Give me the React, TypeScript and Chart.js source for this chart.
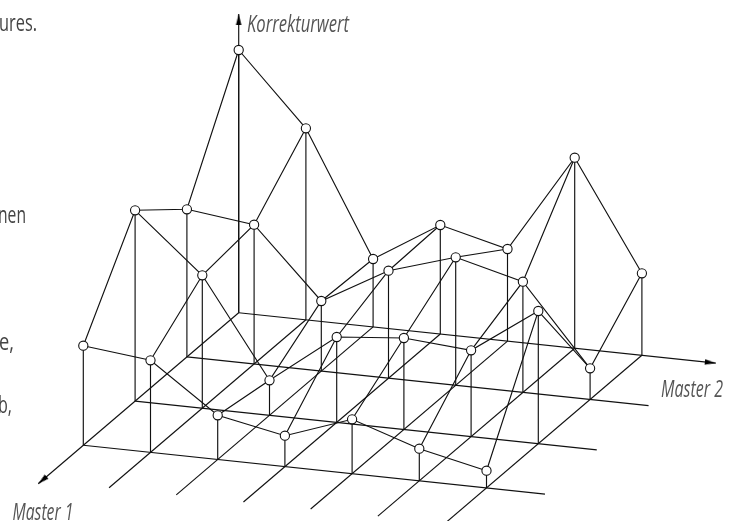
import React, { useEffect, useRef } from "react";
import { Chart, registerables } from "chart.js";

Chart.register(...registerables);

// Korrekturwert per Master 2 step, one list per Master 1 step (back to front)
const korrekturRow0 = [262.7, 191.5, 67.9, 109, 92.1, 190.5, 82];
const korrekturRow1 = [147.6, 139.3, 70.1, 107.5, 128, 110.7, 31.2];
const korrekturRow2 = [190.8, 132.9, 35, 85.4, 91.5, 86.3, 132.7];
const korrekturRow3 = [99.6, 92.1, 44.2, 30.9, 54.4, 32.1, 17.2];
const rows = [korrekturRow0, korrekturRow1, korrekturRow2, korrekturRow3];

const master1Steps = [0, 1, 2, 3];
const master2Steps = [0, 1, 2, 3, 4, 5, 6];

const axisTitles = ["Korrekturwert", "Master 1", "Master 2"];
const fragments = ["ures.", "nen", "e,", "b,"];

// Oblique projection of the (Master 1, Master 2, Korrekturwert) space
const project = (m1: number, m2: number, z = 0) => ({
  x: 238.7 - 51.8 * m1 + 67.2 * m2,
  y: 312.7 + 44.2 * m1 + 7.1 * m2 - z,
});

const INK = "#111111";
const line = (data: { x: number; y: number }[], order = 3) => ({
  data,
  showLine: true,
  borderColor: INK,
  borderWidth: 1.15,
  pointRadius: 0,
  fill: false,
  order,
});

const makeArrow = () => {
  const c = document.createElement("canvas");
  c.width = 24;
  c.height = 8;
  const g = c.getContext("2d")!;
  g.fillStyle = "#000";
  g.beginPath();
  g.moveTo(12, 4);
  g.lineTo(1, 1.2);
  g.lineTo(1, 6.8);
  g.closePath();
  g.fill();
  return c;
};

const labelsPlugin = {
  id: "labels",
  afterDatasetsDraw(chart: any) {
    const { ctx } = chart;
    ctx.save();
    ctx.textBaseline = "alphabetic";
    ctx.fillStyle = "#555555";
    ctx.font = 'italic 500 23px "Open Sans"';
    ctx.fillText(axisTitles[0], 247, 31.5, 102);
    ctx.fillText(axisTitles[1], 12.5, 520, 61);
    ctx.fillText(axisTitles[2], 661, 396.5, 62);
    ctx.fillStyle = "#444444";
    ctx.font = '500 24px "Open Sans"';
    ctx.fillText(fragments[0], -1, 31, 38);
    ctx.fillText(fragments[1], -2, 222.5, 28);
    ctx.fillText(fragments[2], -1, 350, 15);
    ctx.fillText(fragments[3], -2, 413, 14);
    ctx.restore();
  },
};

export default function App() {
  const ref = useRef<HTMLCanvasElement>(null);
  useEffect(() => {
    const datasets: any[] = [];

    // base grid
    master1Steps.forEach((m1) => {
      const end = m1 === 0 ? 7.1 : 6.87;
      datasets.push(line([project(m1, 0), project(m1, end)]));
    });
    master2Steps.forEach((m2) => {
      const end = m2 === 0 ? 3.87 : 3.8;
      datasets.push(line([project(0, m2), project(end, m2)]));
    });
    // Korrekturwert axis
    datasets.push(line([project(0, 0), project(0, 0, 298.7)]));

    // stems
    rows.forEach((row, m1) =>
      row.forEach((z, m2) => datasets.push(line([project(m1, m2), project(m1, m2, z)])))
    );

    // surface edges
    rows.forEach((row, m1) =>
      datasets.push(line(row.map((z, m2) => project(m1, m2, z)), 2))
    );
    master2Steps.forEach((m2) =>
      datasets.push(line(rows.map((row, m1) => project(m1, m2, row[m2])), 2))
    );

    // value points
    datasets.push({
      data: rows.flatMap((row, m1) => row.map((z, m2) => project(m1, m2, z))),
      showLine: false,
      pointRadius: 4.6,
      pointBorderWidth: 1.1,
      pointBorderColor: INK,
      pointBackgroundColor: "#ffffff",
      order: 1,
    });

    // arrow heads
    const arrow = makeArrow();
    const head = (p: { x: number; y: number }, deg: number) => ({
      data: [p],
      showLine: false,
      pointStyle: arrow,
      pointRotation: deg,
      pointRadius: 5,
      order: 0,
    });
    datasets.push(head(project(0, 0, 298.7), -90));
    datasets.push(head(project(3.87, 0), 139.5));
    datasets.push(head(project(0, 7.1), 6));

    const chart = new Chart(ref.current!, {
      type: "scatter",
      data: { datasets },
      options: {
        animation: false,
        responsive: false,
        maintainAspectRatio: false,
        layout: { padding: 0, autoPadding: false },
        plugins: { legend: { display: false }, tooltip: { enabled: false } },
        scales: {
          x: { type: "linear", display: false, min: 0, max: 736 },
          y: { type: "linear", display: false, min: 0, max: 521, reverse: true },
        },
      },
      plugins: [labelsPlugin],
    } as any);
    return () => chart.destroy();
  }, []);

  return (
    <div style={{ position: "fixed", left: 0, top: 0, width: 736, height: 521, background: "#fff", overflow: "hidden" }}>
      <canvas ref={ref} width={736} height={521} style={{ display: "block" }} />
    </div>
  );
}
